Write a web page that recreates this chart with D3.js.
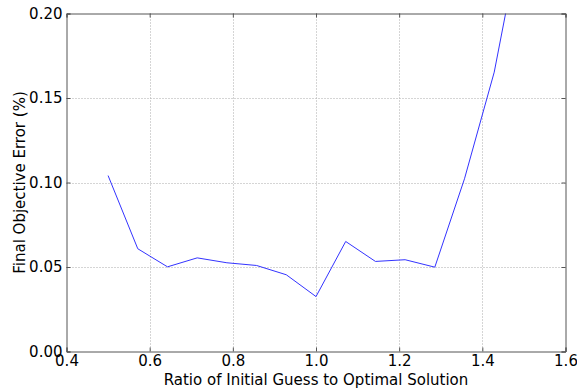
<!DOCTYPE html>
<html><head><meta charset="utf-8">
<script src="https://cdn.jsdelivr.net/npm/d3@7"></script>
<style>body{margin:0;background:#fff}svg{display:block}text{font-family:"DejaVu Sans",sans-serif;fill:#000}</style>
</head><body><svg id="c" width="577" height="392"></svg>
<script>
const xValues = [0.5, 0.5714, 0.6429, 0.7143, 0.7857, 0.8571, 0.9286, 1.0, 1.0714, 1.1429, 1.2143, 1.2857, 1.3571, 1.4286, 1.5];
const errValues = [0.1041, 0.0608, 0.0501, 0.0554, 0.0525, 0.0509, 0.0454, 0.0325, 0.0651, 0.0533, 0.0543, 0.0499, 0.1022, 0.1653, 0.256];
const xTicks = [0.4, 0.6, 0.8, 1.0, 1.2, 1.4, 1.6];
const yTicks = [0.00, 0.05, 0.10, 0.15, 0.20];

const L = 66.5, R = 565.5, T = 13.5, B = 351.5;
const FS = 15;
const svg = d3.select("#c");
const x = d3.scaleLinear().domain([0.4, 1.6]).range([L, R]);
const y = d3.scaleLinear().domain([0, 0.2]).range([B, T]);

// grid
const g = svg.append("g");
g.selectAll(".gx").data(xTicks.slice(1, -1)).enter().append("line")
  .attr("x1", d => Math.round(x(d)) + 0.5).attr("x2", d => Math.round(x(d)) + 0.5)
  .attr("y1", T).attr("y2", B).attr("stroke", "#aaa").attr("stroke-dasharray", "1,2");
g.selectAll(".gy").data(yTicks.slice(1, -1)).enter().append("line")
  .attr("y1", d => Math.round(y(d)) + 0.5).attr("y2", d => Math.round(y(d)) + 0.5)
  .attr("x1", L).attr("x2", R).attr("stroke", "#aaa").attr("stroke-dasharray", "1,2");

// line
svg.append("clipPath").attr("id", "clip").append("rect")
  .attr("x", L).attr("y", T).attr("width", R - L).attr("height", B - T);
svg.append("path").datum(xValues.map((v, i) => [v, errValues[i]]))
  .attr("clip-path", "url(#clip)")
  .attr("d", d3.line().x(d => x(d[0])).y(d => y(d[1])))
  .attr("fill", "none").attr("stroke", "#3333ff").attr("stroke-width", 1);

// axes (ticks inward)
const ax = svg.append("g");
const xb = ax.append("g").attr("transform", `translate(0,${B})`)
  .call(d3.axisBottom(x).tickValues(xTicks).tickFormat(d3.format(".1f")).tickSize(-4).tickPadding(4));
ax.append("g").attr("transform", `translate(${L},0)`)
  .call(d3.axisLeft(y).tickValues(yTicks).tickFormat(d3.format(".2f")).tickSize(-4).tickPadding(4));
ax.append("g").attr("transform", `translate(0,${T})`)
  .call(d3.axisTop(x).tickValues(xTicks).tickFormat("").tickSize(-4));
ax.append("g").attr("transform", `translate(${R},0)`)
  .call(d3.axisRight(y).tickValues(yTicks).tickFormat("").tickSize(-4));
ax.selectAll(".domain").attr("stroke", "#555");
ax.selectAll(".tick line").attr("stroke", "#555");
ax.selectAll("text").attr("font-size", FS).attr("font-family", "DejaVu Sans").attr("fill", "#000");

svg.append("text").attr("x", (L + R) / 2).attr("y", 385).attr("text-anchor", "middle")
  .attr("font-size", FS).text("Ratio of Initial Guess to Optimal Solution");
svg.append("text").attr("transform", `translate(25,${(T + B) / 2}) rotate(-90)`).attr("text-anchor", "middle")
  .attr("font-size", FS).text("Final Objective Error (%)");
</script></body></html>
